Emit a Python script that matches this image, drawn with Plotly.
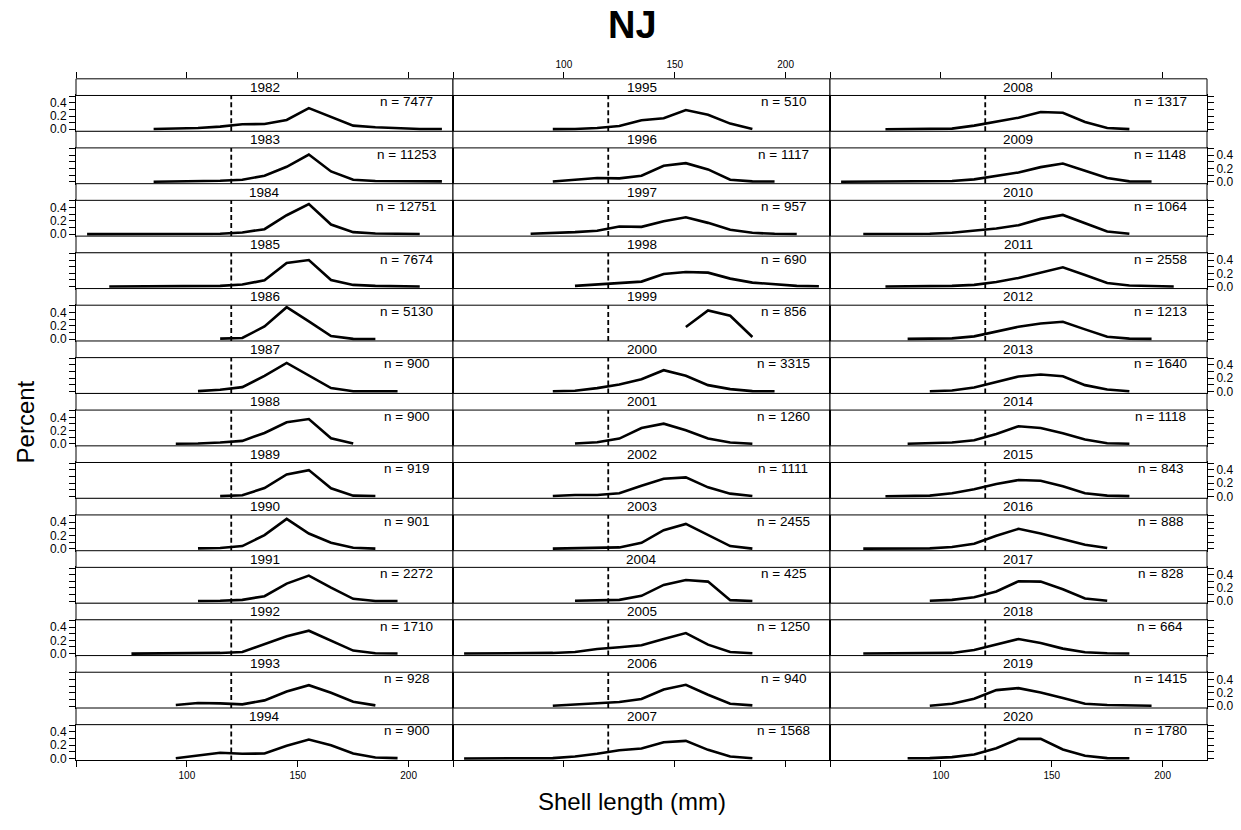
import plotly.graph_objects as go

# ---------------- data ----------------
years = list(range(1982, 2021))
n_obs = [7477, 11253, 12751, 7674, 5130, 900, 900, 919, 901, 2272, 1710, 928, 900,
         510, 1117, 957, 690, 856, 3315, 1260, 1111, 2455, 425, 1250, 940, 1568,
         1317, 1148, 1064, 2558, 1213, 1640, 1118, 843, 888, 828, 664, 1415, 1780]
bin_mid = list(range(55, 216, 10))          # 10 mm shell length bins (mid points)
start_mid = [85, 85, 55, 65, 115, 105, 95, 115, 105, 105, 75, 95, 95,
             95, 95, 85, 105, 155, 95, 105, 95, 95, 105, 55, 95, 55,
             75, 55, 65, 75, 85, 95, 85, 75, 65, 95, 65, 95, 85]
percent = [
    [0.005, 0.01, 0.02, 0.04, 0.075, 0.08, 0.14, 0.32, 0.185, 0.055, 0.03, 0.015, 0.005, 0.005],
    [0.0, 0.002, 0.005, 0.015, 0.03, 0.09, 0.225, 0.41, 0.155, 0.03, 0.01, 0.005, 0.005, 0.005],
    [0, 0, 0, 0, 0, 0.002, 0.005, 0.025, 0.075, 0.285, 0.455, 0.145, 0.03, 0.01, 0.005, 0.002],
    [0, 0, 0, 0, 0.002, 0.01, 0.03, 0.095, 0.355, 0.40, 0.10, 0.025, 0.01, 0.005, 0.002],
    [0.005, 0.015, 0.19, 0.48, 0.265, 0.045, 0.002, 0.0],
    [0.005, 0.025, 0.065, 0.235, 0.43, 0.24, 0.05, 0.002, 0.002, 0.002],
    [0.002, 0.005, 0.02, 0.045, 0.165, 0.325, 0.375, 0.085, 0.005],
    [0.002, 0.015, 0.125, 0.33, 0.395, 0.12, 0.01, 0.005],
    [0.005, 0.01, 0.04, 0.205, 0.45, 0.23, 0.09, 0.015, 0.002],
    [0.002, 0.005, 0.02, 0.075, 0.265, 0.385, 0.205, 0.035, 0.002, 0.002],
    [0, 0, 0.002, 0.005, 0.01, 0.025, 0.14, 0.26, 0.345, 0.19, 0.045, 0.005, 0.002],
    [0.015, 0.045, 0.04, 0.025, 0.085, 0.22, 0.315, 0.2, 0.065, 0.01],
    [0.002, 0.04, 0.085, 0.07, 0.075, 0.19, 0.285, 0.2, 0.075, 0.015, 0.005],
    [0.002, 0.005, 0.02, 0.05, 0.135, 0.165, 0.29, 0.22, 0.085, 0.005],
    [0.002, 0.025, 0.055, 0.05, 0.09, 0.24, 0.28, 0.185, 0.03, 0.005, 0.002],
    [0.005, 0.015, 0.03, 0.05, 0.115, 0.11, 0.195, 0.255, 0.17, 0.065, 0.02, 0.005, 0.002],
    [0.01, 0.035, 0.06, 0.075, 0.19, 0.22, 0.21, 0.12, 0.06, 0.035, 0.01, 0.005],
    [0.18, 0.43, 0.35, 0.03],
    [0.002, 0.01, 0.05, 0.105, 0.185, 0.32, 0.235, 0.095, 0.035, 0.005, 0.002],
    [0.005, 0.025, 0.08, 0.24, 0.305, 0.205, 0.08, 0.02, 0.002],
    [0.005, 0.02, 0.02, 0.045, 0.16, 0.265, 0.285, 0.135, 0.04, 0.005],
    [0.002, 0.005, 0.01, 0.02, 0.09, 0.28, 0.375, 0.205, 0.04, 0.002],
    [0.005, 0.01, 0.02, 0.08, 0.245, 0.32, 0.295, 0.015, 0.002],
    [0.002, 0.002, 0.002, 0.005, 0.01, 0.025, 0.07, 0.095, 0.125, 0.22, 0.31, 0.135, 0.025, 0.005],
    [0.005, 0.02, 0.045, 0.06, 0.105, 0.25, 0.32, 0.17, 0.035, 0.01],
    [0, 0, 0, 0, 0.005, 0.03, 0.07, 0.125, 0.15, 0.245, 0.265, 0.13, 0.03, 0.002],
    [0, 0, 0.002, 0.01, 0.055, 0.12, 0.175, 0.26, 0.25, 0.11, 0.02, 0.002],
    [0, 0, 0, 0.002, 0.005, 0.01, 0.035, 0.09, 0.14, 0.22, 0.275, 0.165, 0.055, 0.005, 0.002],
    [0.002, 0.002, 0.005, 0.005, 0.02, 0.05, 0.085, 0.135, 0.23, 0.29, 0.16, 0.04, 0.005],
    [0, 0, 0.005, 0.01, 0.025, 0.07, 0.13, 0.215, 0.29, 0.175, 0.055, 0.015, 0.005, 0.002],
    [0.002, 0.005, 0.01, 0.04, 0.11, 0.185, 0.235, 0.26, 0.145, 0.035, 0.005, 0.002],
    [0.002, 0.015, 0.06, 0.145, 0.225, 0.255, 0.23, 0.095, 0.03, 0.002],
    [0.002, 0.01, 0.02, 0.055, 0.15, 0.265, 0.24, 0.16, 0.065, 0.01, 0.002],
    [0, 0.002, 0.01, 0.045, 0.105, 0.185, 0.245, 0.235, 0.15, 0.045, 0.01, 0.002],
    [0.002, 0.002, 0.002, 0.005, 0.025, 0.075, 0.195, 0.3, 0.23, 0.145, 0.06, 0.01],
    [0.005, 0.02, 0.06, 0.145, 0.3, 0.295, 0.18, 0.04, 0.005],
    [0.002, 0.002, 0.002, 0.002, 0.01, 0.055, 0.135, 0.22, 0.16, 0.075, 0.02, 0.005, 0.002],
    [0.005, 0.035, 0.11, 0.24, 0.27, 0.205, 0.12, 0.035, 0.015, 0.01, 0.005],
    [0.002, 0.005, 0.02, 0.06, 0.155, 0.295, 0.295, 0.135, 0.04, 0.005, 0.002],
]
legal_size = 120
x_tick_vals = [50, 100, 150, 200]
x_tick_text = ["", "100", "150", "200"]
y_tick_vals = [0.0, 0.1, 0.2, 0.3, 0.4, 0.5]
y_tick_text = ["0.0", "", "0.2", "", "0.4", ""]

# ---------------- layout geometry (pixels) ----------------
W, H = 1241, 830
COL_LEFT = [76, 453, 830]
COL_W = 377
ROW_TOP0 = 79.3
ROW_PITCH = 52.75
STRIP_H = 16.75
NROW = 13
XR = [50, 220]
YR = [-0.03, 0.51]
FONT = "Liberation Sans, Arial, Helvetica, sans-serif"

fig = go.Figure()
lay = {}
shapes = []
annotations = []

for k, yr in enumerate(years):
    c, r = divmod(k, NROW)
    idx = k + 1
    xa = "x" if idx == 1 else f"x{idx}"
    ya = "y" if idx == 1 else f"y{idx}"
    xkey = "xaxis" if idx == 1 else f"xaxis{idx}"
    ykey = "yaxis" if idx == 1 else f"yaxis{idx}"

    left = COL_LEFT[c]
    right = left + COL_W
    st = ROW_TOP0 + r * ROW_PITCH
    pt = st + STRIP_H
    pb = st + ROW_PITCH

    i0 = bin_mid.index(start_mid[k])
    vals = percent[k]
    xs = bin_mid[i0:i0 + len(vals)]
    fig.add_trace(go.Scatter(x=xs, y=vals, mode="lines", xaxis=xa, yaxis=ya,
                             line=dict(color="black", width=2.6),
                             showlegend=False, hoverinfo="skip"))

    xcfg = dict(domain=[left / W, right / W], range=XR, anchor=ya,
                showgrid=False, zeroline=False, showline=True, mirror=True,
                linecolor="black", linewidth=1, fixedrange=True)
    if r == NROW - 1:
        xcfg.update(ticks="outside", ticklen=6, tickwidth=1, tickcolor="black",
                    tickvals=x_tick_vals,
                    ticktext=x_tick_text if c != 1 else [""] * 4,
                    tickfont=dict(size=10, color="black", family=FONT))
    else:
        xcfg.update(ticks="", showticklabels=False)
    lay[xkey] = xcfg

    ycfg = dict(domain=[1 - pb / H, 1 - pt / H], range=YR, anchor=xa,
                showgrid=False, zeroline=False, showline=True, mirror=True,
                linecolor="black", linewidth=1, fixedrange=True)
    if c == 0 or c == 2:
        labelled = (r % 2 == 0) if c == 0 else (r % 2 == 1)
        ycfg.update(side="left" if c == 0 else "right", ticks="outside",
                    ticklen=6, tickwidth=1, tickcolor="black",
                    tickvals=y_tick_vals,
                    ticktext=y_tick_text if labelled else [""] * 6,
                    tickfont=dict(size=12, color="black", family=FONT))
    else:
        ycfg.update(ticks="", showticklabels=False)
    lay[ykey] = ycfg

    # strip
    shapes.append(dict(type="rect", xref="paper", yref="paper",
                       x0=left / W, x1=right / W, y0=1 - pt / H, y1=1 - st / H,
                       line=dict(color="black", width=1), fillcolor="white"))
    annotations.append(dict(text=str(yr), xref="paper", yref="paper",
                            x=(left + right) / 2 / W, y=1 - (st + pt) / 2 / H,
                            xanchor="center", yanchor="middle", showarrow=False,
                            font=dict(size=13.5, color="black", family=FONT)))
    # legal size reference
    shapes.append(dict(type="line", xref=xa, yref=f"{ya} domain",
                       x0=legal_size, x1=legal_size, y0=0, y1=1,
                       line=dict(color="black", width=1.8, dash="5px,3px")))
    # sample size
    annotations.append(dict(text=f"n = {n_obs[k]}", xref=xa, yref=ya,
                            x=199, y=0.415, xanchor="center", yanchor="middle",
                            showarrow=False,
                            font=dict(size=13.5, color="black", family=FONT)))

# top tick axes (above first-row strips)
for c in range(3):
    idx = 40 + c
    left = COL_LEFT[c]
    right = left + COL_W
    fig.add_trace(go.Scatter(x=[None], y=[None], mode="lines", xaxis=f"x{idx}",
                             yaxis=f"y{idx}", showlegend=False, hoverinfo="skip"))
    lay[f"xaxis{idx}"] = dict(domain=[left / W, right / W], range=XR, anchor=f"y{idx}",
                              side="top", ticks="outside", ticklen=6, tickwidth=1,
                              tickcolor="black", tickvals=x_tick_vals,
                              ticktext=x_tick_text if c == 1 else [""] * 4,
                              tickfont=dict(size=10, color="black", family=FONT),
                              showgrid=False, zeroline=False, showline=False,
                              fixedrange=True)
    lay[f"yaxis{idx}"] = dict(domain=[1 - (ROW_TOP0 + STRIP_H) / H, 1 - ROW_TOP0 / H],
                              range=[0, 1], anchor=f"x{idx}", visible=False,
                              fixedrange=True)

annotations.append(dict(text="<b>NJ</b>", xref="paper", yref="paper",
                        x=632 / W, y=1 - 25 / H, xanchor="center", yanchor="middle",
                        showarrow=False, font=dict(size=38, color="black", family=FONT)))
annotations.append(dict(text="Shell length (mm)", xref="paper", yref="paper",
                        x=632 / W, y=1 - 806 / H, xanchor="center", yanchor="middle",
                        showarrow=False, font=dict(size=24, color="black", family=FONT)))
annotations.append(dict(text="Percent", xref="paper", yref="paper",
                        x=25 / W, y=1 - 425 / H, xanchor="center", yanchor="middle",
                        textangle=-90, showarrow=False,
                        font=dict(size=24, color="black", family=FONT)))

fig.update_layout(width=W, height=H, margin=dict(l=0, r=0, t=0, b=0),
                  paper_bgcolor="white", plot_bgcolor="white",
                  shapes=shapes, annotations=annotations, showlegend=False,
                  font=dict(family=FONT, color="black"), **lay)

fig.write_html("out.html", config={"displayModeBar": False},
               post_script="document.body.style.margin='0';")
